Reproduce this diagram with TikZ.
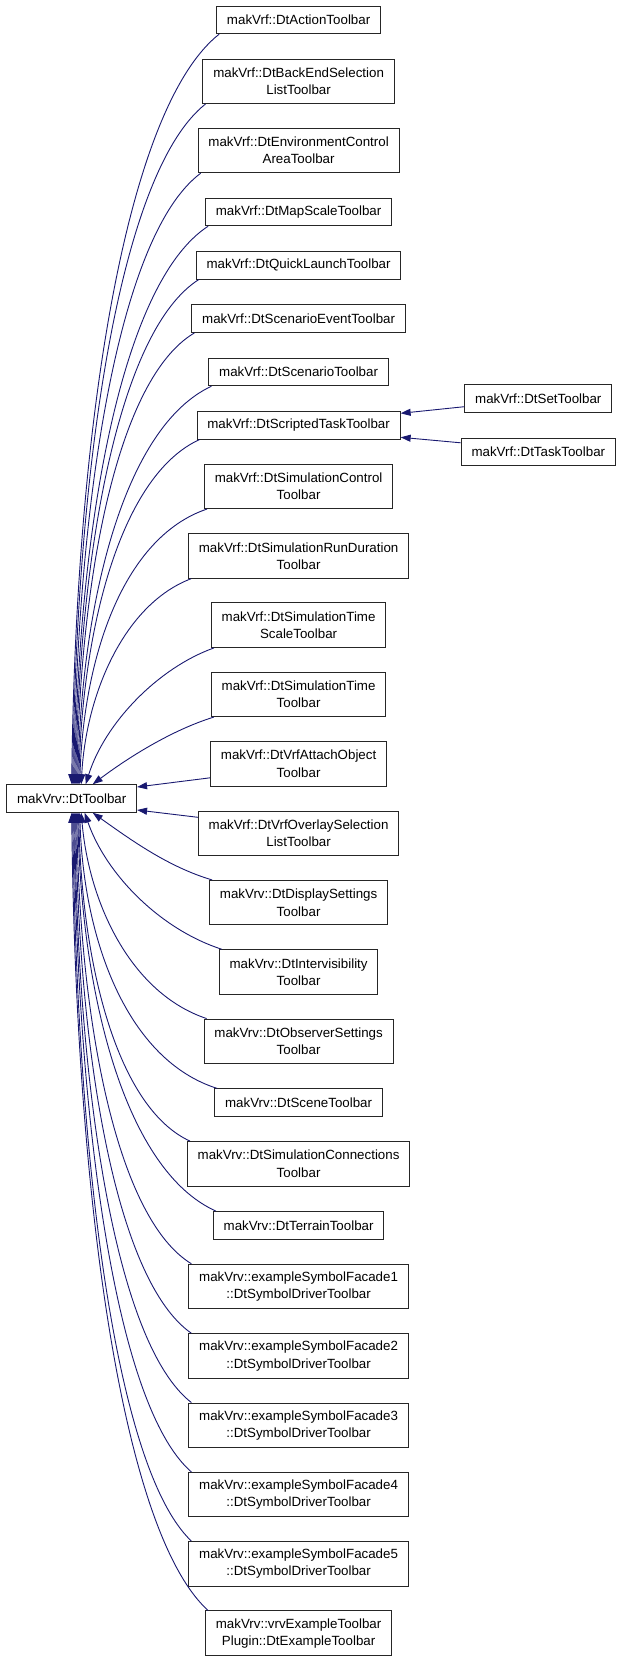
\documentclass[tikz,border=0pt]{standalone}
\usepackage{fontspec}
\setmainfont{Liberation Sans}
\usetikzlibrary{arrows.meta}
\definecolor{edgeblue}{HTML}{191970}

\begin{document}
\begin{tikzpicture}[x=1pt, y=-1pt,
  cls/.style={draw=black!85, line width=1pt, fill=white, inner xsep=10.3pt, inner ysep=2pt,
    minimum height=27.5pt, align=center, font=\fontsize{13.33}{17.3}\selectfont},
  cls2/.style={cls, minimum height=44.5pt},
  inh/.style={draw=edgeblue, line width=0.9pt, -{Triangle[length=10pt,width=7pt]}}]
\useasboundingbox (0,0) rectangle (624,1661);

% Base class
\node[cls] (tb) at (71.7,798.5) {makVrv::DtToolbar};

% Derived classes (makVrf)
\node[cls]  (act)      at (298.6,19.9)   {makVrf::DtActionToolbar};
\node[cls2] (backend)  at (298.6,81.3)   {makVrf::DtBackEndSelection\\ListToolbar};
\node[cls2] (envctl)   at (298.6,150.5)  {makVrf::DtEnvironmentControl\\AreaToolbar};
\node[cls]  (mapscale) at (298.6,212)    {makVrf::DtMapScaleToolbar};
\node[cls]  (quick)    at (298.6,265.3)  {makVrf::DtQuickLaunchToolbar};
\node[cls]  (scevent)  at (298.6,318.7)  {makVrf::DtScenarioEventToolbar};
\node[cls]  (scen)     at (298.6,372)    {makVrf::DtScenarioToolbar};
\node[cls]  (scripted) at (298.6,425.3)  {makVrf::DtScriptedTaskToolbar};
\node[cls2] (simctl)   at (298.6,486.3)  {makVrf::DtSimulationControl\\Toolbar};
\node[cls2] (rundur)   at (298.6,556)    {makVrf::DtSimulationRunDuration\\Toolbar};
\node[cls2] (tscale)   at (298.6,625.2)  {makVrf::DtSimulationTime\\ScaleToolbar};
\node[cls2] (stime)    at (298.6,694.3)  {makVrf::DtSimulationTime\\Toolbar};
\node[cls2] (attach)   at (298.6,763.8)  {makVrf::DtVrfAttachObject\\Toolbar};
\node[cls2] (overlay)  at (298.6,833.3)  {makVrf::DtVrfOverlaySelection\\ListToolbar};

% Grandchildren
\node[cls] (settb)  at (538.3,398.7) {makVrf::DtSetToolbar};
\node[cls] (tasktb) at (538.3,451.8) {makVrf::DtTaskToolbar};

% Derived classes (makVrv)
\node[cls2] (display)  at (298.6,902.7)  {makVrv::DtDisplaySettings\\Toolbar};
\node[cls2] (intervis) at (298.6,972)    {makVrv::DtIntervisibility\\Toolbar};
\node[cls2] (observer) at (298.6,1041.3) {makVrv::DtObserverSettings\\Toolbar};
\node[cls]  (scene)    at (298.6,1102.7) {makVrv::DtSceneToolbar};
\node[cls2] (simconn)  at (298.6,1163.8) {makVrv::DtSimulationConnections\\Toolbar};
\node[cls]  (terrain)  at (298.6,1225.3) {makVrv::DtTerrainToolbar};
\node[cls2] (fac1)     at (298.6,1286.5) {makVrv::exampleSymbolFacade1\\::DtSymbolDriverToolbar};
\node[cls2] (fac2)     at (298.6,1356)   {makVrv::exampleSymbolFacade2\\::DtSymbolDriverToolbar};
\node[cls2] (fac3)     at (298.6,1425.3) {makVrv::exampleSymbolFacade3\\::DtSymbolDriverToolbar};
\node[cls2] (fac4)     at (298.6,1494.7) {makVrv::exampleSymbolFacade4\\::DtSymbolDriverToolbar};
\node[cls2] (fac5)     at (298.6,1563.8) {makVrv::exampleSymbolFacade5\\::DtSymbolDriverToolbar};
\node[cls2] (vrvex)    at (298.6,1633.2) {makVrv::vrvExampleToolbar\\Plugin::DtExampleToolbar};

% Inheritance edges into the top of the base class
\draw[inh] ([xshift=3pt]act.south west) .. controls +(-95,75) and +(4,-353) .. (tb.north);
\draw[inh] ([xshift=3pt]backend.south west) .. controls +(-86,68) and +(4,-320) .. ([xshift=1pt]tb.north);
\draw[inh] ([xshift=3pt]envctl.south west) .. controls +(-82,61) and +(4,-287) .. ([xshift=2pt]tb.north);
\draw[inh] ([xshift=3pt]mapscale.south west) .. controls +(-86,56) and +(4,-262) .. ([xshift=3pt]tb.north);
\draw[inh] ([xshift=3pt]quick.south west) .. controls +(-79,50) and +(4,-237) .. ([xshift=4pt]tb.north);
\draw[inh] ([xshift=3pt]scevent.south west) .. controls +(-76,45) and +(4,-212) .. ([xshift=5pt]tb.north);
\draw[inh] ([xshift=3pt]scen.south west) .. controls +(-86,40) and +(4,-187) .. ([xshift=6pt]tb.north);
\draw[inh] ([xshift=3pt]scripted.south west) .. controls +(-77,35) and +(4,-162) .. ([xshift=7pt]tb.north);
\draw[inh] ([xshift=3pt]simctl.south west) .. controls +(-83,28) and +(4,-129) .. ([xshift=8pt]tb.north);
\draw[inh] ([xshift=3pt]rundur.south west) .. controls +(-66,25) and +(5,-92) .. ([xshift=9.5pt]tb.north);
\draw[inh] ([xshift=3pt]tscale.south west) .. controls +(-56,20) and +(19,-61) .. ([xshift=14pt]tb.north);
\draw[inh] ([xshift=3pt]stime.south west) .. controls +(-42,13) and +(36,-27) .. ([xshift=21pt]tb.north);

% Straight edges into the side
\draw[inh] ([yshift=-14pt]attach.west) -- ([yshift=11.5pt]tb.east);
\draw[inh] ([yshift=16pt]overlay.west) -- ([yshift=-11.5pt]tb.east);
\draw[inh] ([yshift=-8pt]settb.west) -- ([yshift=12pt]scripted.east);
\draw[inh] ([yshift=9pt]tasktb.west) -- ([yshift=-12pt]scripted.east);

% Inheritance edges into the bottom of the base class
\draw[inh] ([xshift=3pt]display.north west) .. controls +(-44,-13) and +(38,27) .. ([xshift=21pt]tb.south);
\draw[inh] ([xshift=3pt]intervis.north west) .. controls +(-62,-20) and +(21,61) .. ([xshift=13pt]tb.south);
\draw[inh] ([xshift=3pt]observer.north west) .. controls +(-75,-25) and +(8,92) .. ([xshift=9.5pt]tb.south);
\draw[inh] ([xshift=3pt]scene.north west) .. controls +(-89,-28) and +(4,130) .. ([xshift=8pt]tb.south);
\draw[inh] ([xshift=3pt]simconn.north west) .. controls +(-72,-33) and +(3,154) .. ([xshift=7pt]tb.south);
\draw[inh] ([xshift=3pt]terrain.north west) .. controls +(-89,-40) and +(4,188) .. ([xshift=6pt]tb.south);
\draw[inh] ([xshift=3pt]fac1.north west) .. controls +(-74,-45) and +(3,212) .. ([xshift=5pt]tb.south);
\draw[inh] ([xshift=3pt]fac2.north west) .. controls +(-75,-52) and +(3,245) .. ([xshift=4pt]tb.south);
\draw[inh] ([xshift=3pt]fac3.north west) .. controls +(-76,-59) and +(3,277) .. ([xshift=3pt]tb.south);
\draw[inh] ([xshift=3pt]fac4.north west) .. controls +(-76,-66) and +(4,310) .. ([xshift=2pt]tb.south);
\draw[inh] ([xshift=3pt]fac5.north west) .. controls +(-77,-73) and +(4,342) .. ([xshift=1pt]tb.south);
\draw[inh] ([xshift=3pt]vrvex.north west) .. controls +(-88,-80) and +(4,375) .. (tb.south);
\end{tikzpicture}
\end{document}
